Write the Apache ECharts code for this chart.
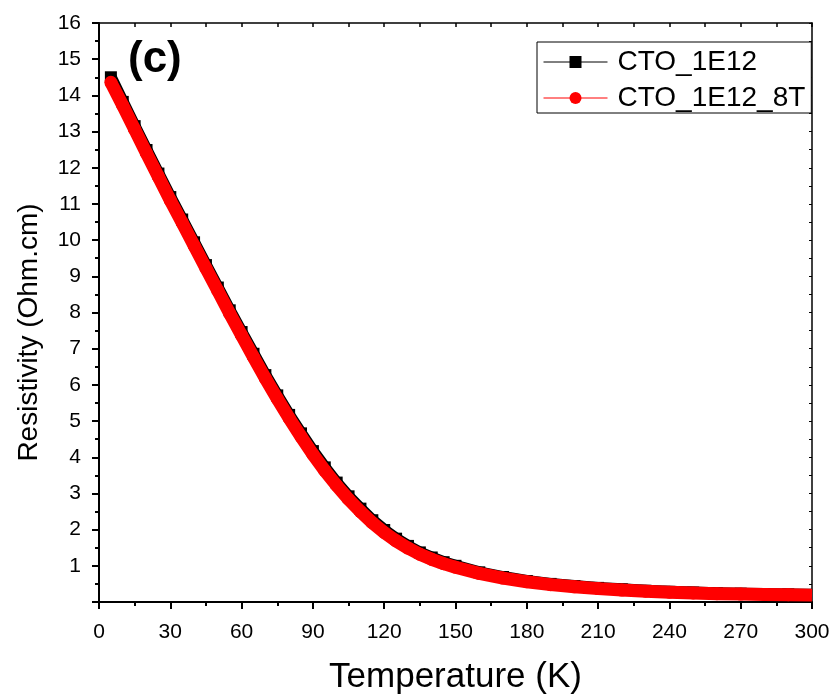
<!DOCTYPE html>
<html>
<head>
<meta charset="utf-8">
<script src="https://cdn.jsdelivr.net/npm/echarts@6/dist/echarts.min.js"></script>
<style>
  html, body { margin: 0; padding: 0; background: #fff; }
  #chart { width: 836px; height: 700px; }
</style>
</head>
<body>
<div id="chart"></div>
<script>
// Temperature grid (K)
const temperatureK = [5, 10, 15, 20, 25, 30, 35, 40, 45, 50, 55, 60, 65, 70, 75, 80, 85, 90, 95, 100,
  105, 110, 115, 120, 125, 130, 135, 140, 145, 150, 160, 170, 180, 190, 200, 210, 220, 230, 240, 250,
  260, 270, 280, 290, 300];

// Resistivity (Ohm.cm), zero field
const rhoCTO1E12 = [14.50, 13.82, 13.15, 12.49, 11.84, 11.19, 10.57, 9.94, 9.31, 8.69, 8.06, 7.46, 6.86,
  6.27, 5.71, 5.17, 4.66, 4.17, 3.72, 3.30, 2.92, 2.58, 2.26, 1.99, 1.75, 1.55, 1.37, 1.23, 1.10, 1.00,
  0.82, 0.69, 0.58, 0.50, 0.44, 0.39, 0.35, 0.31, 0.28, 0.26, 0.24, 0.23, 0.22, 0.21, 0.20];

// Resistivity (Ohm.cm), 8 T
const rhoCTO1E12_8T = [14.36, 13.72, 13.06, 12.40, 11.75, 11.10, 10.48, 9.85, 9.22, 8.60, 7.97, 7.37, 6.77,
  6.18, 5.62, 5.08, 4.57, 4.08, 3.63, 3.22, 2.84, 2.50, 2.19, 1.92, 1.69, 1.49, 1.32, 1.18, 1.06, 0.96,
  0.79, 0.66, 0.56, 0.48, 0.42, 0.37, 0.33, 0.30, 0.27, 0.25, 0.23, 0.22, 0.21, 0.20, 0.19];

const seriesNames = ['CTO_1E12', 'CTO_1E12_8T'];
const panelLabel = '(c)';

const T_MIN = 0, T_MAX = 300;
const FONT = '"Liberation Sans", Arial, sans-serif';

// [x, y] points; the marker sitting on the right frame edge is hidden so the band ends flush with it
function pairs(xs, ys) {
  return xs.map((x, i) => (x >= T_MAX ? { value: [x, ys[i]], symbol: 'none' } : [x, ys[i]]));
}

const chart = echarts.init(document.getElementById('chart'), null, { renderer: 'canvas' });

const mainAxisLine = { show: true, onZero: false, lineStyle: { color: '#000', width: 2 } };
const frameAxisLine = { show: true, onZero: false, lineStyle: { color: '#000', width: 1.5 } };

chart.setOption({
  animation: false,
  backgroundColor: '#fff',
  grid: { left: 99, right: 24, top: 23, bottom: 94, containLabel: false },
  xAxis: [
    {
      type: 'value', min: T_MIN, max: T_MAX, interval: 30, position: 'bottom',
      name: 'Temperature (K)', nameLocation: 'middle', nameGap: 58,
      nameTextStyle: { fontFamily: FONT, fontSize: 35, color: '#000' },
      axisLine: mainAxisLine,
      axisTick: { show: true, inside: false, length: 7, lineStyle: { color: '#000', width: 2 } },
      minorTick: { show: true, splitNumber: 2, length: 4, lineStyle: { color: '#000', width: 2 } },
      axisLabel: { fontFamily: FONT, fontSize: 21, color: '#000', margin: 20 },
      splitLine: { show: false }, minorSplitLine: { show: false }
    },
    {
      type: 'value', min: T_MIN, max: T_MAX, interval: 30, position: 'top',
      axisLine: frameAxisLine,
      axisTick: { show: true, inside: true, length: 4, lineStyle: { color: '#000', width: 1.5 } },
      minorTick: { show: true, splitNumber: 2, length: 4, lineStyle: { color: '#000', width: 1.5 } },
      axisLabel: { show: false },
      splitLine: { show: false }
    }
  ],
  yAxis: [
    {
      type: 'value', min: 0, max: 16, interval: 1, position: 'left',
      name: 'Resistivity (Ohm.cm)', nameLocation: 'middle', nameGap: 56,
      nameTextStyle: { fontFamily: FONT, fontSize: 28, color: '#000', padding: [0, 40, 0, 0] },
      axisLine: mainAxisLine,
      axisTick: { show: true, inside: false, length: 7, lineStyle: { color: '#000', width: 2 } },
      minorTick: { show: true, splitNumber: 2, length: 4, lineStyle: { color: '#000', width: 2 } },
      axisLabel: {
        fontFamily: FONT, fontSize: 21, color: '#000', margin: 18,
        formatter: v => (v === 0 ? '' : String(v))
      },
      splitLine: { show: false }, minorSplitLine: { show: false }
    },
    {
      type: 'value', min: 0, max: 16, interval: 1, position: 'right',
      axisLine: frameAxisLine,
      axisTick: { show: true, inside: true, length: 3, lineStyle: { color: '#000', width: 1 } },
      minorTick: { show: true, splitNumber: 2, length: 3, lineStyle: { color: '#000', width: 1 } },
      axisLabel: { show: false },
      splitLine: { show: false }
    }
  ],
  legend: {
    data: seriesNames,
    orient: 'vertical',
    left: 537, top: 42,
    itemWidth: 64, itemHeight: 15, itemGap: 8,
    padding: [6, 6, 1, 6],
    borderColor: '#000', borderWidth: 1,
    backgroundColor: '#fff',
    lineStyle: { width: 1 },
    textStyle: { fontFamily: FONT, fontSize: 28, color: '#000', lineHeight: 28, padding: [0, 0, 0, 5] }
  },
  graphic: [
    {
      type: 'text', left: 128, top: 38, z: 10,
      style: { text: panelLabel, font: 'bold 44px ' + FONT, fill: '#000' }
    }
  ],
  series: [
    {
      name: seriesNames[0], type: 'line',
      xAxisIndex: 0, yAxisIndex: 0,
      data: pairs(temperatureK, rhoCTO1E12),
      symbol: 'rect', symbolSize: 12, showSymbol: true,
      itemStyle: { color: '#000' },
      lineStyle: { color: '#000', width: 12, cap: 'butt', join: 'round' },
      emphasis: { disabled: true }, z: 2
    },
    {
      name: seriesNames[1], type: 'line',
      xAxisIndex: 0, yAxisIndex: 0,
      data: pairs(temperatureK, rhoCTO1E12_8T),
      symbol: 'circle', symbolSize: 13, showSymbol: true,
      itemStyle: { color: '#ff0000' },
      lineStyle: { color: '#ff0000', width: 13, cap: 'butt', join: 'round' },
      emphasis: { disabled: true }, z: 3
    }
  ]
});
</script>
</body>
</html>
